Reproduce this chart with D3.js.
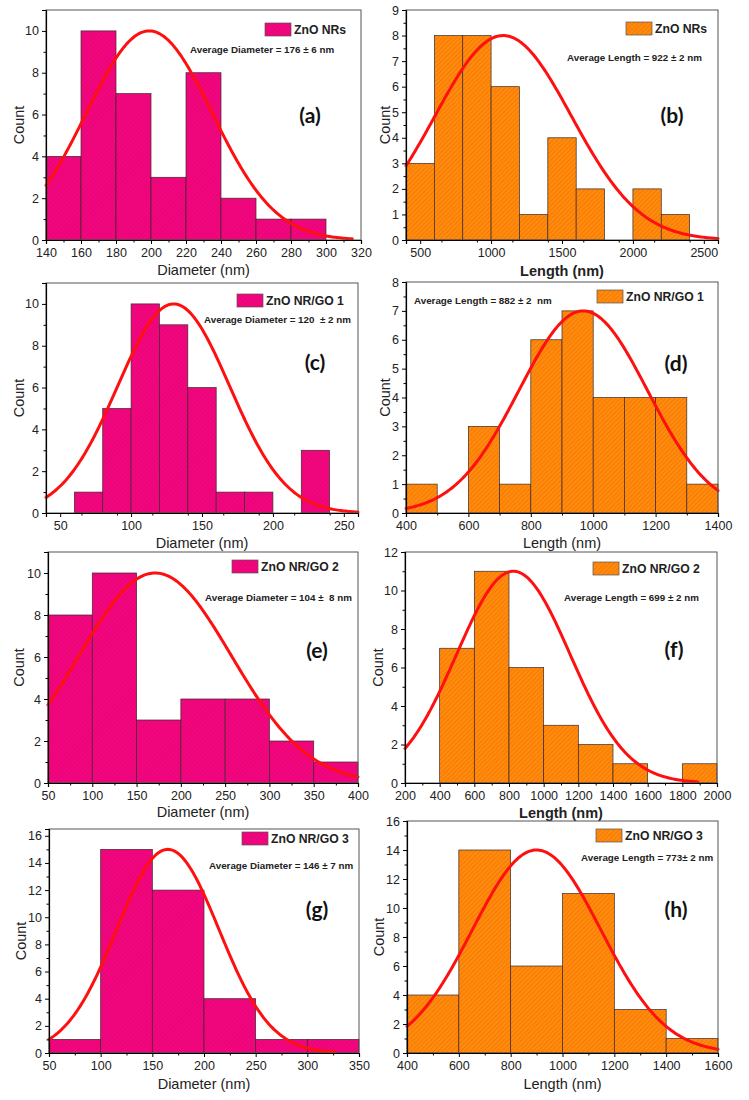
<!DOCTYPE html>
<html><head><meta charset="utf-8">
<script src="https://cdn.jsdelivr.net/npm/d3@7"></script>
<style>body{margin:0;background:#fff}svg{display:block}</style>
</head><body>
<svg id="chart" width="749" height="1100"></svg>
<script>
// ---------- DATA ----------
const edgesA = [140,160,180,200,220,240,260,280,300];
const countsA = [4,10,7,3,8,2,1,1];
const fitA = [199,36,10];           // mean, sigma, peak
const xTicksA = [140,160,180,200,220,240,260,280,300,320];
const yTicksA = [0,2,4,6,8,10];

const edgesB = [400,600,800,1000,1200,1400,1600,1800,2000,2200,2400];
const countsB = [3,8,8,6,1,4,2,0,2,1];
const fitB = [1085,481,8];
const xTicksB = [500,1000,1500,2000,2500];
const yTicksB = [0,1,2,3,4,5,6,7,8,9];

const edgesC = [60,80,100,120,140,160,180,200,220,240];
const countsC = [1,5,10,9,6,1,1,0,3];
const fitC = [130,39.5,10];
const xTicksC = [50,100,150,200,250];
const yTicksC = [0,2,4,6,8,10];

const edgesD = [400,500,600,700,800,900,1000,1100,1200,1300,1400];
const countsD = [1,0,3,1,6,7,4,4,4,1];
const fitD = [968,206,7];
const xTicksD = [400,600,800,1000,1200,1400];
const yTicksD = [0,1,2,3,4,5,6,7,8];

const edgesE = [50,100,150,200,250,300,350,400];
const countsE = [8,10,3,4,4,2,1];
const fitE = [171,86,10];
const xTicksE = [50,100,150,200,250,300,350,400];
const yTicksE = [0,2,4,6,8,10];

const edgesF = [400,600,800,1000,1200,1400,1600,1800,2000];
const countsF = [7,11,6,3,2,1,0,1];
const fitF = [825,328,11];
const xTicksF = [200,400,600,800,1000,1200,1400,1600,1800,2000];
const yTicksF = [0,2,4,6,8,10,12];

const edgesG = [50,100,150,200,250,300,350];
const countsG = [1,15,12,4,1,1];
const fitG = [165,49.5,15];
const xTicksG = [50,100,150,200,250,300,350];
const yTicksG = [0,2,4,6,8,10,12,14,16];

const edgesH = [400,600,800,1000,1200,1400,1600];
const countsH = [4,14,6,11,3,1];
const fitH = [900,248,14];
const xTicksH = [400,600,800,1000,1200,1400,1600];
const yTicksH = [0,2,4,6,8,10,12,14,16];

const legendNames = ["ZnO NRs","ZnO NRs","ZnO NR/GO 1","ZnO NR/GO 1","ZnO NR/GO 2","ZnO NR/GO 2","ZnO NR/GO 3","ZnO NR/GO 3"];
const avgTexts = ["Average Diameter = 176 \u00b1 6 nm","Average Length = 922 \u00b1 2 nm",
  "Average Diameter = 120  \u00b1 2 nm","Average Length = 882 \u00b1 2  nm",
  "Average Diameter = 104 \u00b1  8 nm","Average Length = 699 \u00b1 2 nm",
  "Average Diameter = 146 \u00b1 7 nm","Average Length = 773\u00b1 2 nm"];
const panelLabels = ["(a)","(b)","(c)","(d)","(e)","(f)","(g)","(h)"];
const xTitles = ["Diameter (nm)","Length (nm)","Diameter (nm)","Length (nm)","Diameter (nm)","Length (nm)","Diameter (nm)","Length (nm)"];

// ---------- LAYOUT ----------
const svg = d3.select("#chart");
const defs = svg.append("defs");
function hatch(id, base, line){
  const p = defs.append("pattern").attr("id",id).attr("patternUnits","userSpaceOnUse")
    .attr("width",3.2).attr("height",3.2).attr("patternTransform","rotate(45)");
  p.append("rect").attr("width",3.2).attr("height",3.2).attr("fill",base);
  p.append("line").attr("x1",0).attr("y1",0).attr("x2",0).attr("y2",3.2)
    .attr("stroke",line).attr("stroke-width",0.9);
}
hatch("hp","#F2067E","#DC0270");
hatch("ho","#FF8A0C","#E86A00");

const panels = [
 {e:edgesA,c:countsA,f:fitA,xt:xTicksA,yt:yTicksA,xd:[140,320],yd:[0,11],box:[46,361,10,240],xm:10,ym:1,cr:[140,315],fill:"hp",
  leg:[265,23],avg:[190,53],lab:[310,114],xtY:275,xtBold:false,cnt:19},
 {e:edgesB,c:countsB,f:fitB,xt:xTicksB,yt:yTicksB,xd:[400,2600],yd:[0,9],box:[406,718,10,240],xm:250,ym:0.5,cr:[400,2600],fill:"ho",
  leg:[626,22],avg:[567,61],lab:[672,114],xtY:276,xtBold:true,cnt:385},
 {e:edgesC,c:countsC,f:fitC,xt:xTicksC,yt:yTicksC,xd:[40,260],yd:[0,11],box:[46,358,283,513],xm:25,ym:1,cr:[40,260],fill:"hp",
  leg:[237,294],avg:[204,323],lab:[315,361],xtY:548,xtBold:false,cnt:19},
 {e:edgesD,c:countsD,f:fitD,xt:xTicksD,yt:yTicksD,xd:[400,1400],yd:[0,8],box:[406,718,282,513],xm:100,ym:0.5,cr:[400,1400],fill:"ho",
  leg:[597,290],avg:[414,304],lab:[676,362],xtY:548,xtBold:false,cnt:385},
 {e:edgesE,c:countsE,f:fitE,xt:xTicksE,yt:yTicksE,xd:[50,400],yd:[0,11],box:[48,358,552,783],xm:25,ym:1,cr:[50,400],fill:"hp",
  leg:[232,560],avg:[205,601],lab:[317,649],xtY:817,xtBold:false,cnt:19},
 {e:edgesF,c:countsF,f:fitF,xt:xTicksF,yt:yTicksF,xd:[200,2000],yd:[0,12],box:[405,717,552,783],xm:100,ym:1,cr:[200,1890],fill:"ho",
  leg:[593,562],avg:[564,601],lab:[674,648],xtY:818,xtBold:true,cnt:378},
 {e:edgesG,c:countsG,f:fitG,xt:xTicksG,yt:yTicksG,xd:[50,350],yd:[0,16.5],box:[49,359,829,1053],xm:25,ym:1,cr:[50,327],fill:"hp",
  leg:[242,832],avg:[209,869],lab:[317,908],xtY:1089,xtBold:false,cnt:21},
 {e:edgesH,c:countsH,f:fitH,xt:xTicksH,yt:yTicksH,xd:[400,1600],yd:[0,16],box:[407,718,821,1053],xm:100,ym:1,cr:[400,1600],fill:"ho",
  leg:[596,829],avg:[581,861],lab:[676,908],xtY:1089,xtBold:false,cnt:379}
];

const tickFont = "Liberation Sans, Arial, sans-serif";

panels.forEach((p,i)=>{
  const [L,R,T,B] = p.box;
  const x = d3.scaleLinear().domain(p.xd).range([L,R]);
  const y = d3.scaleLinear().domain(p.yd).range([B,T]);
  const g = svg.append("g");

  // bars
  const bins = p.c.map((v,k)=>({x0:p.e[k],x1:p.e[k+1],v})).filter(d=>d.v>0);
  g.selectAll("rect.bar").data(bins).join("rect").attr("class","bar")
    .attr("x",d=>x(d.x0)).attr("width",d=>x(d.x1)-x(d.x0))
    .attr("y",d=>y(d.v)).attr("height",d=>y(0)-y(d.v))
    .attr("fill",`url(#${p.fill})`).attr("stroke","#3a2a2a").attr("stroke-width",0.7);

  // gaussian fit curve
  const [mu,sg,pk] = p.f;
  const xs = d3.range(p.cr[0], p.cr[1]+1e-9, (p.cr[1]-p.cr[0])/200);
  const line = d3.line().x(d=>x(d)).y(d=>y(pk*Math.exp(-((d-mu)**2)/(2*sg*sg))));
  g.append("path").datum(xs).attr("d",line).attr("fill","none")
    .attr("stroke","#FF1010").attr("stroke-width",3).attr("stroke-linecap","round");

  // frame
  g.append("rect").attr("x",L).attr("y",T).attr("width",R-L).attr("height",B-T)
    .attr("fill","none").attr("stroke","#555").attr("stroke-width",1);

  // axes
  g.append("g").attr("transform",`translate(0,${B})`)
    .call(d3.axisBottom(x).tickValues(p.xt).tickSize(4).tickPadding(4).tickFormat(d3.format("d")));
  const xMinor = d3.range(p.xd[0], p.xd[1]+1e-9, p.xm).filter(v=>!p.xt.includes(v));
  g.append("g").attr("transform",`translate(0,${B})`)
    .call(d3.axisBottom(x).tickValues(xMinor).tickSize(2.5).tickFormat(""))
    .call(a=>a.select(".domain").remove());
  g.append("g").attr("transform",`translate(${L},0)`)
    .call(d3.axisLeft(y).tickValues(p.yt).tickSize(4).tickPadding(3).tickFormat(d3.format("d")));
  const yMinor = d3.range(0, p.yd[1]+1e-9, p.ym).filter(v=>!p.yt.includes(v));
  g.append("g").attr("transform",`translate(${L},0)`)
    .call(d3.axisLeft(y).tickValues(yMinor).tickSize(2.5).tickFormat(""))
    .call(a=>a.select(".domain").remove());
  g.selectAll(".domain").attr("stroke","#000").attr("stroke-width",1.2);
  g.selectAll(".tick line").attr("stroke","#000").attr("stroke-width",1);
  g.selectAll(".tick text").attr("font-family",tickFont).attr("font-size",12.5).attr("fill","#222");

  // axis titles
  g.append("text").attr("x",(L+R)/2).attr("y",p.xtY).attr("text-anchor","middle")
    .attr("font-family",tickFont).attr("font-size",14.5).attr("font-weight",p.xtBold?"bold":"normal")
    .attr("fill","#222").text(xTitles[i]);
  g.append("text").attr("transform",`translate(${p.cnt},${(T+B)/2}) rotate(-90)`)
    .attr("text-anchor","middle").attr("dominant-baseline","central")
    .attr("font-family",tickFont).attr("font-size",14.5).attr("fill","#222").text("Count");

  // legend
  g.append("rect").attr("x",p.leg[0]).attr("y",p.leg[1]).attr("width",26).attr("height",13)
    .attr("fill",`url(#${p.fill})`).attr("stroke","#555").attr("stroke-width",0.7);
  g.append("text").attr("x",p.leg[0]+29).attr("y",p.leg[1]+11).attr("font-family",tickFont)
    .attr("font-size",12.2).attr("font-weight","bold").attr("fill","#222").text(legendNames[i]);

  // average text
  g.append("text").attr("x",p.avg[0]).attr("y",p.avg[1]).attr("font-family",tickFont)
    .attr("font-size",9.8).attr("font-weight","bold").attr("fill","#222")
    .style("white-space","pre").text(avgTexts[i]);

  // panel label
  g.append("text").attr("x",p.lab[0]).attr("y",p.lab[1]).attr("text-anchor","middle")
    .attr("dominant-baseline","central").attr("font-family","Lato, 'Open Sans', sans-serif")
    .attr("font-size",21).attr("font-weight","bold").attr("fill","#111").text(panelLabels[i]);
});
</script>
</body></html>
